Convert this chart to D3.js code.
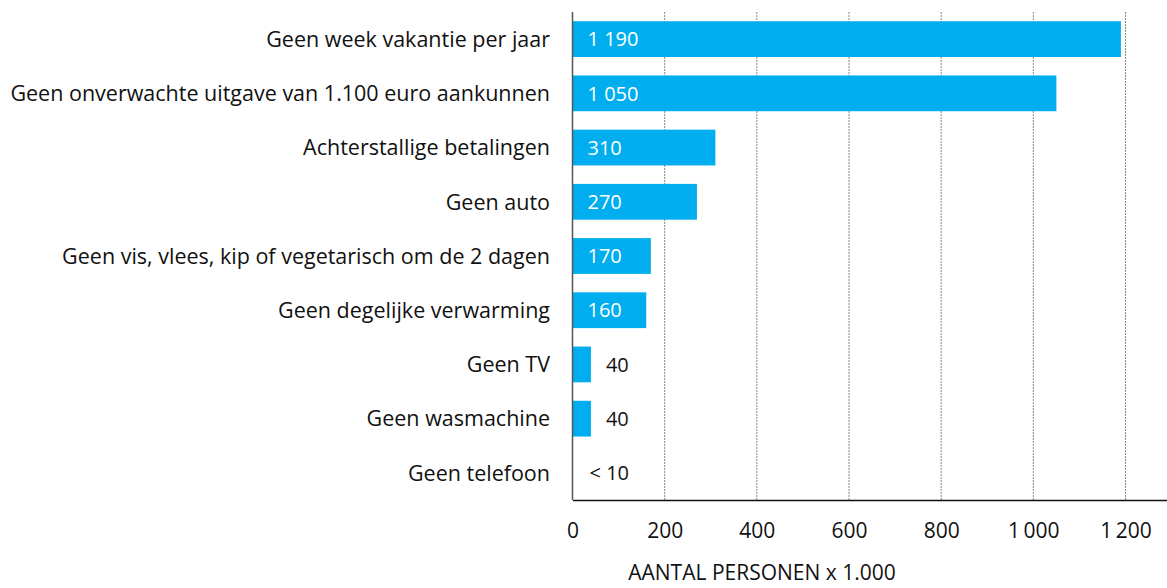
<!DOCTYPE html>
<html>
<head>
<meta charset="utf-8">
<script src="https://cdn.jsdelivr.net/npm/d3@7"></script>
<style>
  body { margin: 0; background: #fff; }
  svg text { font-family: "Open Sans", sans-serif; fill: #111; }
</style>
</head>
<body>
<svg id="chart"></svg>
<script>
// data
const categories = [
  'Geen week vakantie per jaar',
  'Geen onverwachte uitgave van 1.100 euro aankunnen',
  'Achterstallige betalingen',
  'Geen auto',
  'Geen vis, vlees, kip of vegetarisch om de 2 dagen',
  'Geen degelijke verwarming',
  'Geen TV',
  'Geen wasmachine',
  'Geen telefoon'
];
const values = [1190, 1050, 310, 270, 170, 160, 40, 40, 0];
const valueLabels = ['1 190', '1 050', '310', '270', '170', '160', '40', '40', '< 10'];
const xTicks = [0, 200, 400, 600, 800, 1000, 1200];
const xTitle = 'AANTAL PERSONEN x 1.000';

const W = 1167, H = 588;
const margin = { top: 12, right: 0, bottom: 88, left: 572.5 };
const barColor = '#00AEEF';

const svg = d3.select('#chart').attr('width', W).attr('height', H);

const x = d3.scaleLinear()
  .domain([0, 1290])
  .range([margin.left, W - margin.right]);

const y = d3.scaleBand()
  .domain(categories)
  .range([margin.top, H - margin.bottom])
  .paddingInner(0.34)
  .paddingOuter(0.17);

const fmt = d3.formatLocale({ decimal: ',', thousands: '\u2009', grouping: [3], currency: ['', ''] }).format(',');

// gridlines
svg.append('g')
  .selectAll('line')
  .data(xTicks.filter(d => d > 0))
  .join('line')
  .attr('x1', d => x(d)).attr('x2', d => x(d))
  .attr('y1', margin.top).attr('y2', H - margin.bottom)
  .attr('stroke', '#888')
  .attr('stroke-width', 1)
  .attr('stroke-dasharray', '2,1');

// bars
svg.append('g')
  .selectAll('rect')
  .data(values)
  .join('rect')
  .attr('x', x(0))
  .attr('y', (d, i) => y(categories[i]))
  .attr('width', d => x(d) - x(0))
  .attr('height', y.bandwidth())
  .attr('fill', barColor);

// value labels
const inside = d => d >= 100;
svg.append('g')
  .selectAll('text')
  .data(values)
  .join('text')
  .attr('x', d => inside(d) ? x(0) + 15 : (d > 0 ? x(d) + 15 : x(0) + 17))
  .attr('y', (d, i) => y(categories[i]) + y.bandwidth() / 2)
  .attr('dy', '0.36em')
  .style('font-size', '20px')
  .style('fill', d => inside(d) ? '#fff' : '#111')
  .text((d, i) => valueLabels[i]);

// category labels
svg.append('g')
  .selectAll('text')
  .data(categories)
  .join('text')
  .attr('x', 550)
  .attr('y', d => y(d) + y.bandwidth() / 2)
  .attr('dy', '0.36em')
  .attr('text-anchor', 'end')
  .style('font-size', '21.5px')
  .text(d => d);

// axes
const xAxis = d3.axisBottom(x).tickValues(xTicks).tickSize(0).tickPadding(23).tickFormat(fmt);
const gx = svg.append('g')
  .attr('transform', `translate(0,${H - margin.bottom})`)
  .call(xAxis);
gx.select('.domain').attr('stroke', '#111').attr('stroke-width', 1.5);
gx.selectAll('.tick text').style('font-size', '21px').style('font-family', '"Open Sans", sans-serif').attr('fill', '#111');

svg.append('line')
  .attr('x1', x(0)).attr('x2', x(0))
  .attr('y1', margin.top).attr('y2', H - margin.bottom)
  .attr('stroke', '#555').attr('stroke-width', 1.5);

svg.append('text')
  .attr('x', 762)
  .attr('y', 580)
  .attr('text-anchor', 'middle')
  .style('font-size', '21px')
  .text(xTitle);
</script>
</body>
</html>
